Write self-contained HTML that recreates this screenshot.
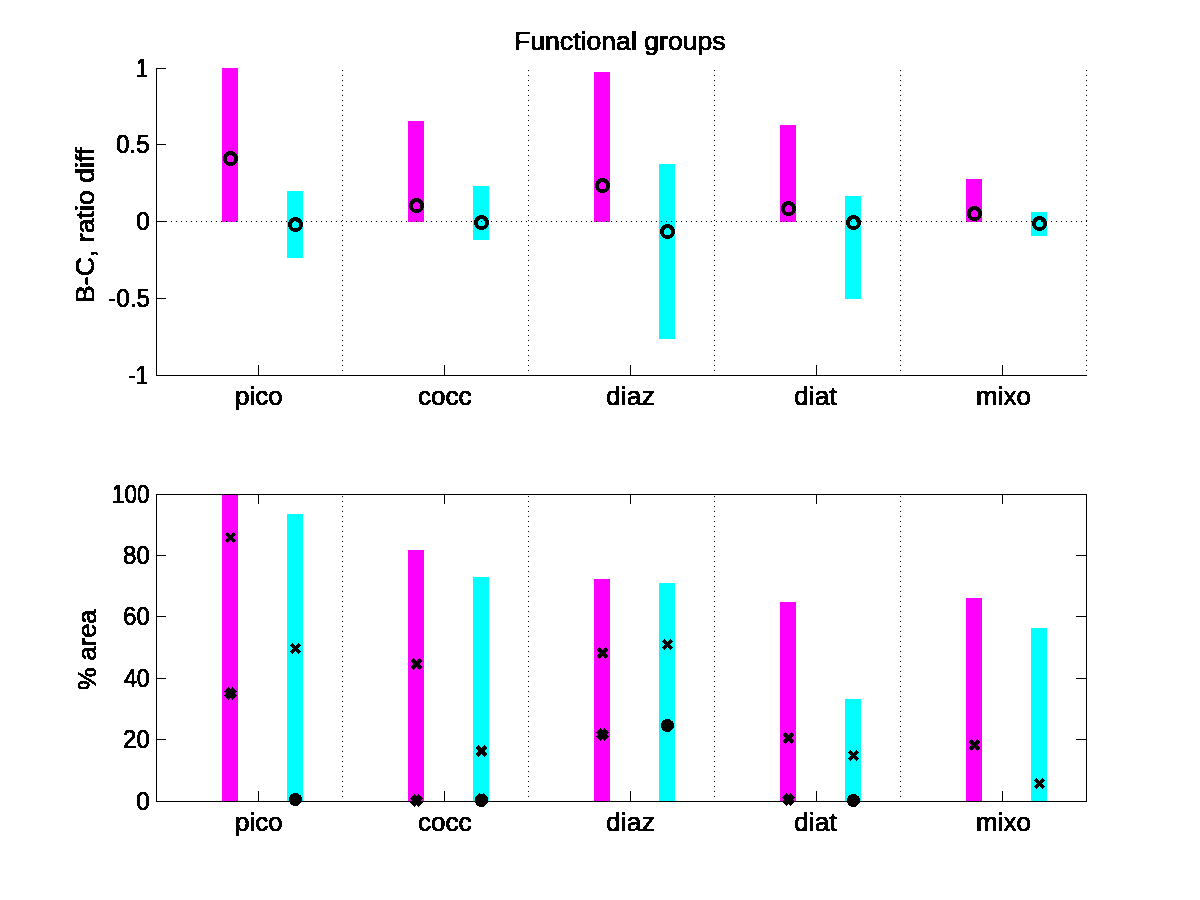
<!DOCTYPE html>
<html lang="en"><head><meta charset="utf-8"><title>Functional groups</title>
<style>
html,body{margin:0;padding:0;background:#fff;}
body{width:1200px;height:900px;overflow:hidden;}
svg{display:block;}
text{font-family:"Liberation Sans", sans-serif;fill:#000;stroke:#000;stroke-width:0.5px;}
.lab{font-size:26px;stroke-width:0.8px;}
.num{font-size:25px;stroke-width:0.8px;}
.ax{fill:#000;}
</style></head><body>
<svg width="1200" height="900" viewBox="0 0 1200 900">
<defs><filter id="crisp" x="0" y="0" width="1200" height="900" filterUnits="userSpaceOnUse" color-interpolation-filters="sRGB"><feComponentTransfer><feFuncA type="discrete" tableValues="0 1"/></feComponentTransfer></filter></defs>
<rect x="0" y="0" width="1200" height="900" fill="#ffffff"/>
<g id="top-chart">
<rect x="222" y="68" width="16" height="154" fill="#ff00ff" shape-rendering="crispEdges"/>
<rect x="287" y="191" width="16" height="67" fill="#00ffff" shape-rendering="crispEdges"/>
<rect x="408" y="121" width="16" height="101" fill="#ff00ff" shape-rendering="crispEdges"/>
<rect x="473" y="186" width="16" height="54" fill="#00ffff" shape-rendering="crispEdges"/>
<rect x="594" y="72" width="16" height="150" fill="#ff00ff" shape-rendering="crispEdges"/>
<rect x="659" y="164" width="16" height="175" fill="#00ffff" shape-rendering="crispEdges"/>
<rect x="780" y="125" width="16" height="97" fill="#ff00ff" shape-rendering="crispEdges"/>
<rect x="845" y="196" width="16" height="103" fill="#00ffff" shape-rendering="crispEdges"/>
<rect x="966" y="179" width="16" height="43" fill="#ff00ff" shape-rendering="crispEdges"/>
<rect x="1031" y="212" width="16" height="24" fill="#00ffff" shape-rendering="crispEdges"/>
<line x1="342.5" y1="70" x2="342.5" y2="371" stroke="#000" stroke-width="1" stroke-dasharray="1 4" shape-rendering="crispEdges"/>
<line x1="528.5" y1="70" x2="528.5" y2="371" stroke="#000" stroke-width="1" stroke-dasharray="1 4" shape-rendering="crispEdges"/>
<line x1="714.5" y1="70" x2="714.5" y2="371" stroke="#000" stroke-width="1" stroke-dasharray="1 4" shape-rendering="crispEdges"/>
<line x1="900.5" y1="70" x2="900.5" y2="371" stroke="#000" stroke-width="1" stroke-dasharray="1 4" shape-rendering="crispEdges"/>
<line x1="1086.5" y1="70" x2="1086.5" y2="371" stroke="#000" stroke-width="1" stroke-dasharray="1 4" shape-rendering="crispEdges"/>
<rect x="156" y="68" width="1" height="308" fill="#000" shape-rendering="crispEdges"/>
<rect x="156" y="375" width="931" height="1" fill="#000" shape-rendering="crispEdges"/>
<rect x="156" y="68" width="10" height="1" fill="#000" shape-rendering="crispEdges"/>
<rect x="156" y="144" width="10" height="1" fill="#000" shape-rendering="crispEdges"/>
<rect x="156" y="221" width="10" height="1" fill="#000" shape-rendering="crispEdges"/>
<rect x="156" y="298" width="10" height="1" fill="#000" shape-rendering="crispEdges"/>
<rect x="258" y="365" width="1" height="10" fill="#000" shape-rendering="crispEdges"/>
<rect x="444" y="365" width="1" height="10" fill="#000" shape-rendering="crispEdges"/>
<rect x="630" y="365" width="1" height="10" fill="#000" shape-rendering="crispEdges"/>
<rect x="816" y="365" width="1" height="10" fill="#000" shape-rendering="crispEdges"/>
<rect x="1002" y="365" width="1" height="10" fill="#000" shape-rendering="crispEdges"/>
<circle cx="230.5" cy="158.5" r="5.5" fill="none" stroke="#000" stroke-width="4" shape-rendering="crispEdges"/>
<circle cx="295.5" cy="224.5" r="5.5" fill="none" stroke="#000" stroke-width="4" shape-rendering="crispEdges"/>
<circle cx="416.5" cy="205.5" r="5.5" fill="none" stroke="#000" stroke-width="4" shape-rendering="crispEdges"/>
<circle cx="481.5" cy="222.5" r="5.5" fill="none" stroke="#000" stroke-width="4" shape-rendering="crispEdges"/>
<circle cx="602.5" cy="185.5" r="5.5" fill="none" stroke="#000" stroke-width="4" shape-rendering="crispEdges"/>
<circle cx="667.5" cy="231.5" r="5.5" fill="none" stroke="#000" stroke-width="4" shape-rendering="crispEdges"/>
<circle cx="788.5" cy="208.5" r="5.5" fill="none" stroke="#000" stroke-width="4" shape-rendering="crispEdges"/>
<circle cx="853.5" cy="222.5" r="5.5" fill="none" stroke="#000" stroke-width="4" shape-rendering="crispEdges"/>
<circle cx="974.5" cy="213.5" r="5.5" fill="none" stroke="#000" stroke-width="4" shape-rendering="crispEdges"/>
<circle cx="1039.5" cy="223.5" r="5.5" fill="none" stroke="#000" stroke-width="4" shape-rendering="crispEdges"/>
<line x1="156" y1="221.5" x2="1087" y2="221.5" stroke="#000" stroke-width="1" stroke-dasharray="1 4" shape-rendering="crispEdges"/>
</g>
<g id="bottom-chart">
<rect x="222" y="494" width="16" height="307" fill="#ff00ff" shape-rendering="crispEdges"/>
<rect x="287" y="514" width="16" height="287" fill="#00ffff" shape-rendering="crispEdges"/>
<rect x="408" y="550" width="16" height="251" fill="#ff00ff" shape-rendering="crispEdges"/>
<rect x="473" y="577" width="16" height="224" fill="#00ffff" shape-rendering="crispEdges"/>
<rect x="594" y="579" width="16" height="222" fill="#ff00ff" shape-rendering="crispEdges"/>
<rect x="659" y="583" width="16" height="218" fill="#00ffff" shape-rendering="crispEdges"/>
<rect x="780" y="602" width="16" height="199" fill="#ff00ff" shape-rendering="crispEdges"/>
<rect x="845" y="699" width="16" height="102" fill="#00ffff" shape-rendering="crispEdges"/>
<rect x="966" y="598" width="16" height="203" fill="#ff00ff" shape-rendering="crispEdges"/>
<rect x="1031" y="628" width="16" height="173" fill="#00ffff" shape-rendering="crispEdges"/>
<line x1="342.5" y1="496" x2="342.5" y2="797" stroke="#000" stroke-width="1" stroke-dasharray="1 4" shape-rendering="crispEdges"/>
<line x1="528.5" y1="496" x2="528.5" y2="797" stroke="#000" stroke-width="1" stroke-dasharray="1 4" shape-rendering="crispEdges"/>
<line x1="714.5" y1="496" x2="714.5" y2="797" stroke="#000" stroke-width="1" stroke-dasharray="1 4" shape-rendering="crispEdges"/>
<line x1="900.5" y1="496" x2="900.5" y2="797" stroke="#000" stroke-width="1" stroke-dasharray="1 4" shape-rendering="crispEdges"/>
<rect x="156" y="494" width="931" height="1" fill="#000" shape-rendering="crispEdges"/>
<rect x="156" y="801" width="931" height="1" fill="#000" shape-rendering="crispEdges"/>
<rect x="156" y="494" width="1" height="308" fill="#000" shape-rendering="crispEdges"/>
<rect x="1086" y="494" width="1" height="308" fill="#000" shape-rendering="crispEdges"/>
<rect x="156" y="555" width="10" height="1" fill="#000" shape-rendering="crispEdges"/>
<rect x="1076" y="555" width="10" height="1" fill="#000" shape-rendering="crispEdges"/>
<rect x="156" y="616" width="10" height="1" fill="#000" shape-rendering="crispEdges"/>
<rect x="1076" y="616" width="10" height="1" fill="#000" shape-rendering="crispEdges"/>
<rect x="156" y="678" width="10" height="1" fill="#000" shape-rendering="crispEdges"/>
<rect x="1076" y="678" width="10" height="1" fill="#000" shape-rendering="crispEdges"/>
<rect x="156" y="739" width="10" height="1" fill="#000" shape-rendering="crispEdges"/>
<rect x="1076" y="739" width="10" height="1" fill="#000" shape-rendering="crispEdges"/>
<rect x="258" y="494" width="1" height="10" fill="#000" shape-rendering="crispEdges"/>
<rect x="258" y="791" width="1" height="10" fill="#000" shape-rendering="crispEdges"/>
<rect x="444" y="494" width="1" height="10" fill="#000" shape-rendering="crispEdges"/>
<rect x="444" y="791" width="1" height="10" fill="#000" shape-rendering="crispEdges"/>
<rect x="630" y="494" width="1" height="10" fill="#000" shape-rendering="crispEdges"/>
<rect x="630" y="791" width="1" height="10" fill="#000" shape-rendering="crispEdges"/>
<rect x="816" y="494" width="1" height="10" fill="#000" shape-rendering="crispEdges"/>
<rect x="816" y="791" width="1" height="10" fill="#000" shape-rendering="crispEdges"/>
<rect x="1002" y="494" width="1" height="10" fill="#000" shape-rendering="crispEdges"/>
<rect x="1002" y="791" width="1" height="10" fill="#000" shape-rendering="crispEdges"/>
<path d="M226.4 533.4L234.6 541.6M226.4 541.6L234.6 533.4" fill="none" stroke="#000" stroke-width="4" shape-rendering="crispEdges"/>
<path d="M226.25 689.25L234.75 697.75M226.25 697.75L234.75 689.25" fill="none" stroke="#000" stroke-width="6.4" shape-rendering="crispEdges"/>
<path d="M291.4 644.4L299.6 652.6M291.4 652.6L299.6 644.4" fill="none" stroke="#000" stroke-width="4" shape-rendering="crispEdges"/>
<circle cx="295.5" cy="799.5" r="6.5" fill="#000" shape-rendering="crispEdges"/>
<path d="M412.4 659.4L420.6 667.6M412.4 667.6L420.6 659.4" fill="none" stroke="#000" stroke-width="4" shape-rendering="crispEdges"/>
<path d="M412.4 660.4L420.6 668.6M412.4 668.6L420.6 660.4" fill="none" stroke="#000" stroke-width="4" shape-rendering="crispEdges"/>
<path d="M412.25 796.25L420.75 804.75M412.25 804.75L420.75 796.25" fill="none" stroke="#000" stroke-width="6.4" shape-rendering="crispEdges"/>
<path d="M477.4 746.4L485.6 754.6M477.4 754.6L485.6 746.4" fill="none" stroke="#000" stroke-width="4" shape-rendering="crispEdges"/>
<path d="M477.4 747.4L485.6 755.6M477.4 755.6L485.6 747.4" fill="none" stroke="#000" stroke-width="4" shape-rendering="crispEdges"/>
<circle cx="481.5" cy="800.5" r="6.5" fill="#000" shape-rendering="crispEdges"/>
<path d="M477.25 795.25L485.75 803.75M477.25 803.75L485.75 795.25" fill="none" stroke="#000" stroke-width="6.4" shape-rendering="crispEdges"/>
<path d="M598.4 648.4L606.6 656.6M598.4 656.6L606.6 648.4" fill="none" stroke="#000" stroke-width="4" shape-rendering="crispEdges"/>
<path d="M598.4 649.4L606.6 657.6M598.4 657.6L606.6 649.4" fill="none" stroke="#000" stroke-width="4" shape-rendering="crispEdges"/>
<path d="M598.25 730.25L606.75 738.75M598.25 738.75L606.75 730.25" fill="none" stroke="#000" stroke-width="6.4" shape-rendering="crispEdges"/>
<path d="M663.4 640.4L671.6 648.6M663.4 648.6L671.6 640.4" fill="none" stroke="#000" stroke-width="4" shape-rendering="crispEdges"/>
<circle cx="667.5" cy="725.5" r="6.5" fill="#000" shape-rendering="crispEdges"/>
<path d="M784.4 733.4L792.6 741.6M784.4 741.6L792.6 733.4" fill="none" stroke="#000" stroke-width="4" shape-rendering="crispEdges"/>
<path d="M784.4 734.4L792.6 742.6M784.4 742.6L792.6 734.4" fill="none" stroke="#000" stroke-width="4" shape-rendering="crispEdges"/>
<path d="M784.25 795.25L792.75 803.75M784.25 803.75L792.75 795.25" fill="none" stroke="#000" stroke-width="6.4" shape-rendering="crispEdges"/>
<path d="M849.4 751.4L857.6 759.6M849.4 759.6L857.6 751.4" fill="none" stroke="#000" stroke-width="4" shape-rendering="crispEdges"/>
<circle cx="853.5" cy="800.5" r="6.5" fill="#000" shape-rendering="crispEdges"/>
<path d="M970.4 740.4L978.6 748.6M970.4 748.6L978.6 740.4" fill="none" stroke="#000" stroke-width="4" shape-rendering="crispEdges"/>
<path d="M970.4 741.4L978.6 749.6M970.4 749.6L978.6 741.4" fill="none" stroke="#000" stroke-width="4" shape-rendering="crispEdges"/>
<path d="M1035.4 779.4L1043.6 787.6M1035.4 787.6L1043.6 779.4" fill="none" stroke="#000" stroke-width="4" shape-rendering="crispEdges"/>
</g>
<g id="labels" filter="url(#crisp)">
<text x="513.95" y="50" class="lab" textLength="211.75" lengthAdjust="spacingAndGlyphs">Functional groups</text>
<text x="136.17" y="77" class="num" textLength="11.59" lengthAdjust="spacingAndGlyphs">1</text>
<text x="116.03" y="153" class="num" textLength="33.71" lengthAdjust="spacingAndGlyphs">0.5</text>
<text x="136.00" y="230" class="num" textLength="13.91" lengthAdjust="spacingAndGlyphs">0</text>
<text x="108.02" y="307" class="num" textLength="42.04" lengthAdjust="spacingAndGlyphs">-0.5</text>
<text x="128.10" y="384" class="num" textLength="20.01" lengthAdjust="spacingAndGlyphs">-1</text>
<text x="112.10" y="503" class="num" textLength="37.55" lengthAdjust="spacingAndGlyphs">100</text>
<text x="123.04" y="564" class="num" textLength="26.74" lengthAdjust="spacingAndGlyphs">80</text>
<text x="123.04" y="625" class="num" textLength="26.74" lengthAdjust="spacingAndGlyphs">60</text>
<text x="124.00" y="687" class="num" textLength="25.75" lengthAdjust="spacingAndGlyphs">40</text>
<text x="123.04" y="748" class="num" textLength="26.74" lengthAdjust="spacingAndGlyphs">20</text>
<text x="136.00" y="810" class="num" textLength="13.91" lengthAdjust="spacingAndGlyphs">0</text>
<text x="235.00" y="405" class="lab" textLength="47.70" lengthAdjust="spacingAndGlyphs">pico</text>
<text x="235.00" y="831" class="lab" textLength="47.70" lengthAdjust="spacingAndGlyphs">pico</text>
<text x="418.00" y="405" class="lab" textLength="53.47" lengthAdjust="spacingAndGlyphs">cocc</text>
<text x="418.00" y="831" class="lab" textLength="53.47" lengthAdjust="spacingAndGlyphs">cocc</text>
<text x="605.98" y="405" class="lab" textLength="48.74" lengthAdjust="spacingAndGlyphs">diaz</text>
<text x="605.98" y="831" class="lab" textLength="48.74" lengthAdjust="spacingAndGlyphs">diaz</text>
<text x="793.98" y="405" class="lab" textLength="42.94" lengthAdjust="spacingAndGlyphs">diat</text>
<text x="793.98" y="831" class="lab" textLength="42.94" lengthAdjust="spacingAndGlyphs">diat</text>
<text x="976.00" y="405" class="lab" textLength="54.91" lengthAdjust="spacingAndGlyphs">mixo</text>
<text x="976.00" y="831" class="lab" textLength="54.91" lengthAdjust="spacingAndGlyphs">mixo</text>
<text class="lab" x="0" y="0" textLength="155.28" lengthAdjust="spacingAndGlyphs" transform="translate(94 303.05) rotate(-90)">B-C, ratio diff</text>
<text class="lab" x="0" y="0" textLength="80.38" lengthAdjust="spacingAndGlyphs" transform="translate(96 689.98) rotate(-90)">% area</text>
</g>
</svg></body></html>
